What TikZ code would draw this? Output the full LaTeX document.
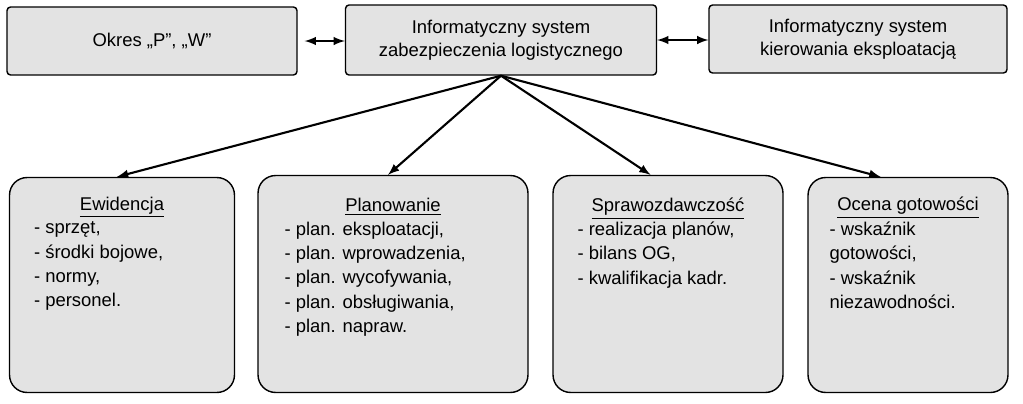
\documentclass[tikz,border=0pt]{standalone}
\usepackage{fontspec}
\setmainfont{Liberation Sans}
\usetikzlibrary{positioning,calc}
\tikzset{
  topbox/.style={draw=black,thick,fill=gray!22,rounded corners=2pt,align=center,font=\fontsize{10.5}{13}\selectfont},
  lowbox/.style={draw=black,thick,fill=gray!22,rounded corners=10pt},
  item/.style={anchor=north west,align=left,font=\fontsize{10.5}{13.8}\selectfont},
  head/.style={anchor=north,font=\fontsize{10.5}{12}\selectfont},
  link/.style={-latex,very thick}
}
\begin{document}
\begin{tikzpicture}[x=0.02cm,y=-0.02cm]
\useasboundingbox (0,0) rectangle (1023,403);
% upper row
\node[topbox,minimum width=5.8cm,minimum height=1.36cm] (okres) at (152,41) {Okres „P”, „W”};
\node[topbox,minimum width=6.22cm,minimum height=1.4cm] (izl) at (501,40) {Informatyczny system\\zabezpieczenia logistycznego};
\node[topbox,minimum width=5.96cm,minimum height=1.36cm] (ike) at (858,39) {Informatyczny system\\kierowania eksploatacją};
\draw[latex-latex,very thick] (okres.east) ++(4pt,0) coordinate (a1) -- (a1-|izl.west) coordinate (a2);
\draw[latex-latex,very thick] ([xshift=-3pt]izl.east) ++(3pt,0) coordinate (b1) -- (b1-|ike.west);
% lower row
\node[lowbox,minimum width=4.5cm,minimum height=4.3cm] (ew) at (122,285) {};
\node[lowbox,minimum width=5.4cm,minimum height=4.34cm] (pl) at (393,284) {};
\node[lowbox,minimum width=4.6cm,minimum height=4.34cm] (sp) at (668,284) {};
\node[lowbox,minimum width=4.0cm,minimum height=4.3cm] (oc) at (908,285) {};
\node[head] at ([yshift=-0.28cm]ew.north) {\underline{Ewidencja}};
\node[item] at ([shift={(0.38cm,-0.78cm)}]ew.north west) {- sprzęt,\\- środki bojowe,\\- normy,\\- personel.};
\node[head] at ([yshift=-0.34cm]pl.north) {\underline{Planowanie}};
\node[item] at ([shift={(0.42cm,-0.82cm)}]pl.north west) {- plan. eksploatacji,\\- plan. wprowadzenia,\\- plan. wycofywania,\\- plan. obsługiwania,\\- plan. napraw.};
\node[head] at ([yshift=-0.34cm]sp.north) {\underline{Sprawozdawczość}};
\node[item] at ([shift={(0.38cm,-0.82cm)}]sp.north west) {- realizacja planów,\\- bilans OG,\\- kwalifikacja kadr.};
\node[head] at ([yshift=-0.28cm]oc.north) {\underline{Ocena gotowości}};
\node[item] at ([shift={(0.32cm,-0.78cm)}]oc.north west) {- wskaźnik\\gotowości,\\- wskaźnik\\niezawodności.};
\draw[link] (izl.south) -- ([xshift=-0.1cm]ew.north);
\draw[link] (izl.south) -- ([xshift=-0.1cm]pl.north);
\draw[link] (izl.south) -- ([xshift=-0.35cm]sp.north);
\draw[link] (izl.south) -- ([xshift=-0.55cm]oc.north);
\end{tikzpicture}
\end{document}
